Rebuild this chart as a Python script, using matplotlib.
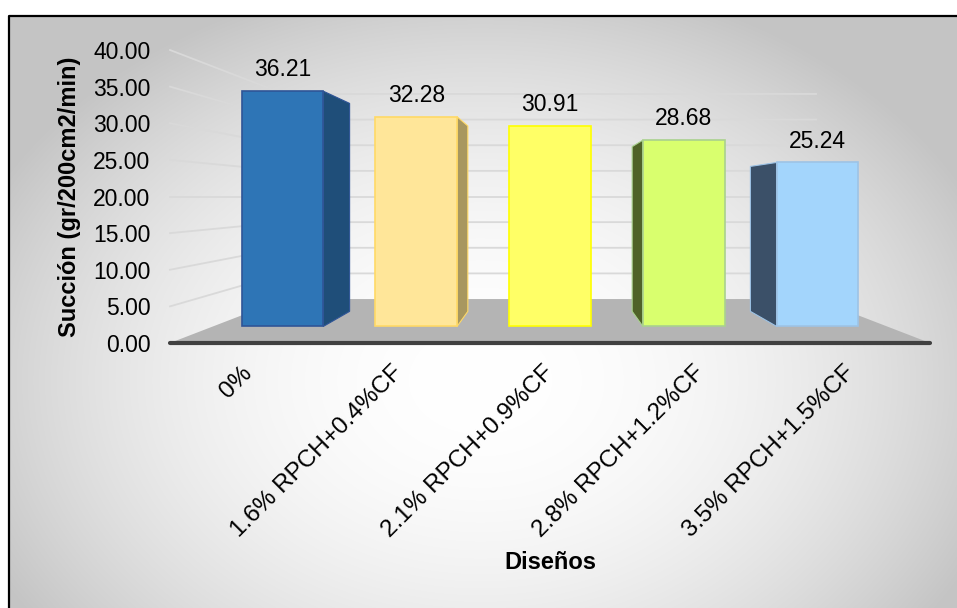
import numpy as np
import matplotlib
matplotlib.use('Agg')
import matplotlib.pyplot as plt
from matplotlib.patches import Polygon

plt.rcParams['font.family'] = ['Liberation Sans', 'DejaVu Sans']

# data
disenos = ['0%', '1.6% RPCH+0.4%CF', '2.1% RPCH+0.9%CF',
           '2.8% RPCH+1.2%CF', '3.5% RPCH+1.5%CF']
succion = [36.21, 32.28, 30.91, 28.68, 25.24]
yticks = [0, 5, 10, 15, 20, 25, 30, 35, 40]

# styles
front_colors = ['#2e75b6', '#ffe699', '#ffff66', '#d9ff6e', '#a3d5fc']
edge_colors = ['#2f5597', '#ffd966', '#ffff00', '#a9d18e', '#9dc3e6']
side_colors = ['#1f4e79', '#a8975f', '#b3b300', '#4f6228', '#3b5068']

W, H = 957, 608
fig = plt.figure(figsize=(W / 100, H / 100), dpi=100)

# background with radial gradient + border
bg = fig.add_axes([0, 0, 1, 1], zorder=-10)
yy, xx = np.mgrid[0:H, 0:W]
r2 = ((xx - 480) / 560.0) ** 2 + ((yy - 380) / 420.0) ** 2
g = 1 - 0.24 * np.clip(r2, 0, 0.96)
g[(xx < 9) | (yy < 16)] = 1.0
bg.imshow(np.dstack([g, g, g]), extent=[0, W, H, 0], aspect='auto')
bg.set_xlim(0, W)
bg.set_ylim(H, 0)
bg.axis('off')
bg.plot([9, 9, W + 5], [H + 5, 16, 16], color='black', lw=1.6)

# main axes = front plane of the 3d box
ax = fig.add_axes([170 / W, 1 - 343 / H, 760 / W, 293 / H])
ax.set_xlim(-0.52, 4.52)
ax.set_ylim(0, 40)
ax.patch.set_alpha(0)
for sp in ax.spines.values():
    sp.set_visible(False)

XV, VV = 2.0, 20.0      # vanishing point (category, value)
S_BACK = 0.70           # scale of the back wall
S_F, S_B = 0.887, 0.784 # scale of bar front / back faces
HALF = 0.305            # half bar width


def proj(x, v, s):
    return XV + (x - XV) * s, VV + (v - VV) * s


x0, x1 = ax.get_xlim()

# floor
floor = [proj(x0, 0, 1), proj(x1, 0, 1), proj(x1, 0, S_BACK), proj(x0, 0, S_BACK)]
ax.add_patch(Polygon(floor, closed=True, facecolor='#b4b4b4', edgecolor='none',
                     zorder=1, clip_on=False))
fx = [proj(x0, 0, 1)[0], proj(x1, 0, 1)[0]]
ax.plot(fx, [0, 0], color='#404040', lw=3, zorder=2, clip_on=False,
        solid_capstyle='round')

# gridlines on left wall and back wall
for t in yticks[1:]:
    a = proj(x0, t, 1)
    b = proj(x0, t, S_BACK)
    c = proj(x1, t, S_BACK)
    ax.plot([a[0], b[0], c[0]], [a[1], b[1], c[1]], color='#d9d9d9', lw=1.3,
            zorder=1, clip_on=False)

# bars
for i, v in enumerate(succion):
    xl, xr = i - HALF, i + HALF
    if i < XV:
        side = [proj(xr, 0, S_F), proj(xr, 0, S_B), proj(xr, v, S_B), proj(xr, v, S_F)]
    elif i > XV:
        side = [proj(xl, 0, S_F), proj(xl, 0, S_B), proj(xl, v, S_B), proj(xl, v, S_F)]
    else:
        side = None
    if side is not None:
        ax.add_patch(Polygon(side, closed=True, facecolor=side_colors[i],
                             edgecolor=edge_colors[i], lw=0.8, zorder=3, clip_on=False))
    front = [proj(xl, 0, S_F), proj(xr, 0, S_F), proj(xr, v, S_F), proj(xl, v, S_F)]
    ax.add_patch(Polygon(front, closed=True, facecolor=front_colors[i],
                         edgecolor=edge_colors[i], lw=1.2, zorder=4, clip_on=False))
    ax.annotate(f'{v:.2f}', xy=proj(i, v, S_F), xytext=(0, 7),
                textcoords='offset points', ha='center', va='bottom',
                fontsize=16.5, zorder=5)

ax.set_yticks(yticks, [f'{t:.2f}' for t in yticks])
ax.tick_params(axis='y', length=0, pad=14, labelsize=16.5)
ax.set_xticks(range(len(disenos)), disenos, rotation=45, ha='right',
              va='center', rotation_mode='anchor')
ax.tick_params(axis='x', length=0, pad=19, labelsize=17.5)

ax.set_ylabel('Succión (gr/200cm2/min)', fontsize=17, fontweight='bold')
ax.yaxis.set_label_coords((81 - 170) / 760, 0.5)
ax.set_xlabel('Diseños', fontsize=17, fontweight='bold')
ax.xaxis.set_label_coords(0.5, (343 - 563) / 293)
ax.xaxis.label.set_va('center')

fig.savefig('out.png', dpi=100)
